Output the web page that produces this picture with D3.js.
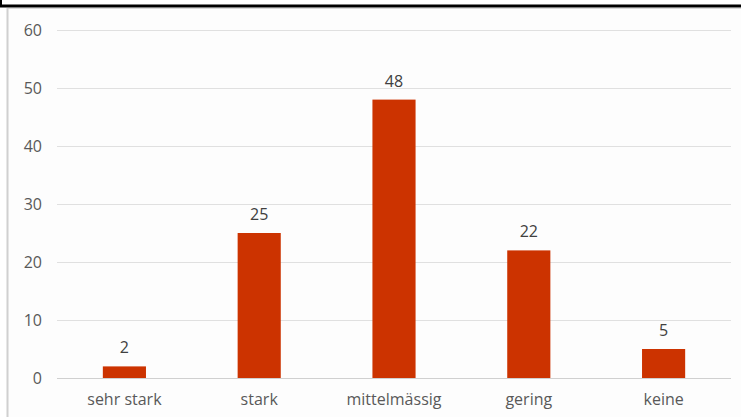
<!DOCTYPE html>
<html><head><meta charset="utf-8">
<script src="https://cdn.jsdelivr.net/npm/d3@7"></script>
<style>body{margin:0;background:#fff}svg{display:block}</style>
</head><body>
<svg id="c" width="741" height="417"></svg>
<script>
const categories = ["sehr stark","stark","mittelmässig","gering","keine"];
const values = [2,25,48,22,5];
const yTicks = [0,10,20,30,40,50,60];

const svg = d3.select("#c");
const W = 741, H = 417;
const font = "'Open Sans', sans-serif";

svg.append("rect").attr("x",0).attr("y",0).attr("width",W).attr("height",H).attr("fill","#fff");
svg.append("rect").attr("x",7).attr("y",8).attr("width",W-7).attr("height",H-8).attr("fill","#fdfdfd");
// frame lines
svg.append("line").attr("x1",0).attr("x2",W).attr("y1",6).attr("y2",6).attr("stroke","#000").attr("stroke-width",3);
svg.append("line").attr("x1",1).attr("x2",1).attr("y1",0).attr("y2",7).attr("stroke","#000").attr("stroke-width",2);
svg.append("line").attr("x1",7).attr("x2",W).attr("y1",8.5).attr("y2",8.5).attr("stroke","#d9d9d9").attr("stroke-width",1);
svg.append("line").attr("x1",7.5).attr("x2",7.5).attr("y1",8).attr("y2",H).attr("stroke","#d0d0d0").attr("stroke-width",2);

const x = d3.scaleBand().domain(categories).range([57,731]).paddingInner(0.68).paddingOuter(0.34);
const y = d3.scaleLinear().domain([0,60]).range([378,30]);

// gridlines
svg.append("g").selectAll("line").data(yTicks).enter().append("line")
  .attr("x1",57).attr("x2",731)
  .attr("y1",d=>Math.round(y(d))+0.5).attr("y2",d=>Math.round(y(d))+0.5)
  .attr("stroke",d=>d===0?"#d0d0d0":"#e0e0e0").attr("stroke-width",1);

// y axis labels
const yAxis = d3.axisLeft(y).tickValues(yTicks).tickSize(0).tickPadding(0);
const ya = svg.append("g").attr("transform","translate(42,0)").call(yAxis);
ya.select(".domain").remove();
ya.selectAll("text").attr("font-family",font).attr("font-size","16px").attr("fill","#595959").attr("dy","0.36em");

// bars
svg.selectAll("rect.bar").data(values).enter().append("rect")
  .attr("class","bar")
  .attr("x",(d,i)=>x(categories[i])).attr("width",x.bandwidth())
  .attr("y",d=>y(d)).attr("height",d=>y(0)-y(d))
  .attr("fill","#cc3300");

// value labels
svg.selectAll("text.val").data(values).enter().append("text")
  .attr("class","val")
  .attr("x",(d,i)=>x(categories[i])+x.bandwidth()/2)
  .attr("y",d=>y(d)-13)
  .attr("text-anchor","middle").attr("font-family",font).attr("font-size","16px").attr("fill","#404040")
  .text(d=>d);

// x axis labels
const xAxis = d3.axisBottom(x).tickSize(0).tickPadding(0);
const xa = svg.append("g").attr("transform","translate(0,405)").call(xAxis);
xa.select(".domain").remove();
xa.selectAll("text").attr("y",0).attr("font-family",font).attr("font-size","16px").attr("fill","#595959").attr("dy","0");
</script>
</body></html>
